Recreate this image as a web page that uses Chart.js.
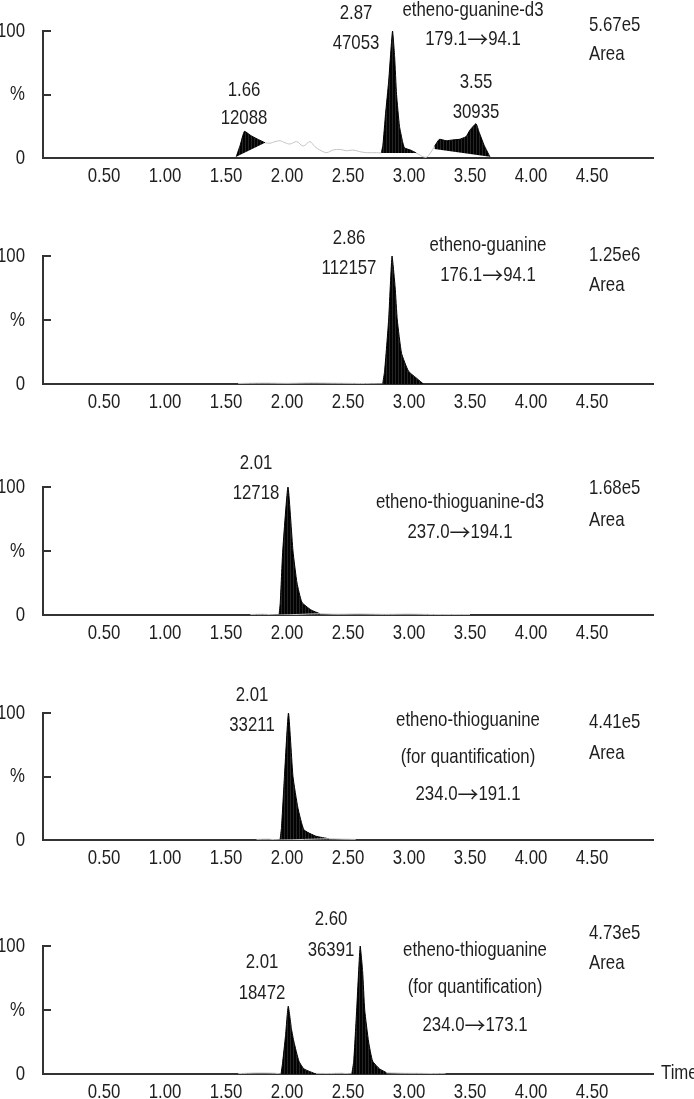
<!DOCTYPE html>
<html><head><meta charset="utf-8">
<script src="https://cdn.jsdelivr.net/npm/chart.js@4/dist/chart.umd.min.js"></script>
<style>
html,body{margin:0;padding:0;background:#fff;}
body{width:694px;height:1099px;position:relative;overflow:hidden;}
.p{position:absolute;left:0;width:694px;}
canvas{display:block;}
</style></head><body>
<div class="p" id="w1"><canvas id="c1"></canvas></div>
<div class="p" id="w2"><canvas id="c2"></canvas></div>
<div class="p" id="w3"><canvas id="c3"></canvas></div>
<div class="p" id="w4"><canvas id="c4"></canvas></div>
<div class="p" id="w5"><canvas id="c5"></canvas></div>
<script>
// ---------- DATA ----------
const xTicks = [0.5, 1.0, 1.5, 2.0, 2.5, 3.0, 3.5, 4.0, 4.5];
const yTickLabels = {0: '0', 50: '%', 100: '100'};

// Panel 1: etheno-guanine-d3
const p1PeakAT = [1.584, 1.616, 1.651, 1.698, 1.755, 1.820];
const p1PeakAV = [1, 10, 21, 18, 15, 12];
const p1BaseAT = [1.584, 1.820];
const p1BaseAV = [1, 12];
const p1PeakBT = [2.773, 2.786, 2.808, 2.833, 2.865, 2.882, 2.898, 2.922, 2.947, 2.963, 3.018, 3.059];
const p1PeakBV = [4, 10, 35, 60, 100, 80, 50, 25, 13, 8, 6, 4];
const p1BaseBT = [2.773, 3.059];
const p1BaseBV = [4, 4];
const p1PeakCT = [3.208, 3.249, 3.304, 3.358, 3.412, 3.467, 3.500, 3.549, 3.576, 3.616, 3.663];
const p1PeakCV = [9, 14.7, 13.6, 14.2, 14.7, 16.8, 22, 27, 20, 10, 1];
const p1BaseCT = [3.208, 3.663];
const p1BaseCV = [7, 1];
const p1NoiseAT = [1.820, 1.861, 1.902, 1.943, 1.984, 2.024, 2.079, 2.133, 2.188, 2.229, 2.269, 2.324, 2.378, 2.433, 2.487, 2.541, 2.596, 2.651, 2.732, 2.773];
const p1NoiseAV = [12, 11.6, 12.9, 13.6, 12, 11, 12.9, 9.4, 12.9, 8.9, 6.3, 4.2, 6.3, 6.8, 5.7, 6.3, 5, 4.2, 4.2, 4];
const p1NoiseBT = [3.059, 3.094, 3.140, 3.176, 3.208];
const p1NoiseBV = [4, 2, 0.5, 4, 9];
const p1Labels = ['2.87', '47053', 'etheno-guanine-d3', '179.1→94.1', '5.67e5', 'Area', '1.66', '12088', '3.55', '30935'];

// Panel 2: etheno-guanine
const p2PeakT = [2.784, 2.800, 2.833, 2.861, 2.886, 2.904, 2.939, 2.996, 3.069, 3.118];
const p2PeakV = [0, 10, 50, 100, 76, 50, 24, 10, 4, 0];
const p2NoiseT = [1.60, 1.80, 2.00, 2.20, 2.40, 2.60, 2.784];
const p2NoiseV = [0.4, 0.7, 0.5, 0.8, 0.6, 0.4, 0];
const p2Labels = ['2.86', '112157', 'etheno-guanine', '176.1→94.1', '1.25e6', 'Area'];

// Panel 3: etheno-thioguanine-d3
const p3PeakT = [1.935, 1.945, 1.965, 2.008, 2.049, 2.082, 2.122, 2.196, 2.270];
const p3PeakV = [0, 10, 50, 100, 50, 25, 10, 4, 1];
const p3NoiseT = [1.70, 1.80, 1.935, 2.270, 2.40, 2.60, 2.80, 3.00, 3.20, 3.50];
const p3NoiseV = [0.4, 0.6, 0, 1, 0.6, 0.8, 0.5, 0.7, 0.4, 0.4];
const p3Labels = ['2.01', '12718', 'etheno-thioguanine-d3', '237.0→194.1', '1.68e5', 'Area'];

// Panel 4: etheno-thioguanine 234.0→191.1
const p4PeakT = [1.943, 1.955, 1.979, 2.012, 2.049, 2.090, 2.139, 2.237, 2.343];
const p4PeakV = [0, 10, 50, 100, 50, 25, 8, 3, 1];
const p4NoiseT = [1.75, 1.85, 1.943, 2.343, 2.45, 2.563];
const p4NoiseV = [0.5, 0.7, 0, 1, 0.7, 0.5];
const p4Labels = ['2.01', '33211', 'etheno-thioguanine', '(for quantification)', '234.0→191.1', '4.41e5', 'Area'];

// Panel 5: etheno-thioguanine 234.0→173.1
const p5PeakAT = [1.951, 1.963, 1.988, 2.010, 2.037, 2.057, 2.098, 2.139, 2.237];
const p5PeakAV = [0, 8, 30, 53, 35, 25, 10, 4, 0];
const p5PeakBT = [2.531, 2.547, 2.571, 2.600, 2.620, 2.637, 2.669, 2.702, 2.759, 2.816];
const p5PeakBV = [0, 10, 50, 100, 80, 50, 25, 10, 4, 1];
const p5NoiseAT = [1.60, 1.75, 1.90, 1.951];
const p5NoiseAV = [0.3, 0.8, 0.6, 0];
const p5NoiseBT = [2.237, 2.35, 2.45, 2.531];
const p5NoiseBV = [0.5, 0.4, 0.6, 0];
const p5NoiseCT = [2.816, 2.95, 3.10, 3.30];
const p5NoiseCV = [1, 0.6, 0.5, 0.2];
const p5Labels = ['2.60', '36391', '2.01', '18472', 'etheno-thioguanine', '(for quantification)', '234.0→173.1', '4.73e5', 'Area', 'Time'];

// ---------- LAYOUT (page pixels) ----------
const p1Pos = [[356,13,'center'],[356,43,'center'],[473,10,'center'],[473,39,'center'],[589,25,'left'],[589,54,'left'],[244,90,'center'],[244,118,'center'],[476,82,'center'],[476,112,'center']];
const p2Pos = [[349,238,'center'],[349,268,'center'],[488,245,'center'],[488,275,'center'],[589,255,'left'],[589,285,'left']];
const p3Pos = [[256,463,'center'],[256,493,'center'],[460,502,'center'],[460,532,'center'],[589,488,'left'],[589,520,'left']];
const p4Pos = [[252,695,'center'],[252,725,'center'],[468,720,'center'],[468,757,'center'],[468,794,'center'],[589,722,'left'],[589,753,'left']];
const p5Pos = [[331,919,'center'],[331,950,'center'],[262,962,'center'],[262,993,'center'],[475,950,'center'],[475,987,'center'],[475,1025,'center'],[589,933,'left'],[589,963,'left'],[661,1073,'left']];

const FONT = '"Liberation Sans", Arial, sans-serif';
const ARROW_FONT = '"Noto Sans CJK SC", "DejaVu Sans", sans-serif';
const FSIZE = 21;
const SQUEEZE = 0.8;
const TEXT = '#1e1e1e';
const AXIS = '#333';
const PAD_TOP = 45, X_H = 35, LEFT = 43, RIGHT_PAD = 694 - 653;

function pts(t, v) { return t.map((x, i) => ({x: x, y: v[i]})); }

function stripe(ctx) {
  const c = document.createElement('canvas'); c.width = 3; c.height = 1;
  const g = c.getContext('2d');
  g.fillStyle = '#030303'; g.fillRect(0, 0, 3, 1);
  g.fillStyle = '#262626'; g.fillRect(2, 0, 1, 1);
  return ctx.createPattern(c, 'repeat');
}

// condensed text: draw every text horizontally squeezed around its anchor
function condense(ctx) {
  const orig = ctx.fillText.bind(ctx);
  ctx._plainFillText = orig;
  ctx.fillText = function (t, x, y) {
    ctx.save(); ctx.translate(x, y); ctx.scale(SQUEEZE, 1); orig(t, 0, 0); ctx.restore();
  };
}

// text with a wide arrow glyph
function drawLabel(ctx, s, x, y, align) {
  const i = s.indexOf('→');
  if (i < 0) { ctx.textAlign = align; ctx.fillText(s, x, y); return; }
  const a = s.slice(0, i), b = s.slice(i + 1);
  ctx.font = FSIZE + 'px ' + FONT;
  const wa = ctx.measureText(a).width * SQUEEZE, wb = ctx.measureText(b).width * SQUEEZE;
  ctx.font = FSIZE + 'px ' + ARROW_FONT;
  const wr = ctx.measureText('→').width;
  const total = wa + wr + wb;
  let x0 = align === 'center' ? x - total / 2 : x;
  ctx.textAlign = 'left';
  ctx.font = FSIZE + 'px ' + FONT;
  ctx.fillText(a, x0, y);
  ctx.font = FSIZE + 'px ' + ARROW_FONT;
  ctx._plainFillText('→', x0 + wa, y);
  ctx.font = FSIZE + 'px ' + FONT;
  ctx.fillText(b, x0 + wa + wr, y);
}

function build(id, T, B, peaks, noise, labels, pos) {
  const cv = document.getElementById('c' + id);
  const wrap = document.getElementById('w' + id);
  const H = (B - T) + PAD_TOP + X_H;
  const top = T - PAD_TOP;
  wrap.style.top = top + 'px';
  cv.width = 694; cv.height = H; cv.style.width = '694px'; cv.style.height = H + 'px';
  const c2d = cv.getContext('2d');
  condense(c2d);
  const pat = stripe(c2d);
  const ds = [];
  noise.forEach(n => ds.push({data: pts(n[0], n[1]), borderColor: '#c4c4c4', borderWidth: 1, pointRadius: 0, fill: false, tension: 0.3}));
  peaks.forEach(p => {
    let fill = {value: 0};
    if (p.bt) {
      ds.push({data: pts(p.bt, p.bv), borderWidth: 0, borderColor: 'rgba(0,0,0,0)', pointRadius: 0, fill: false});
      fill = {target: ds.length - 1};
    }
    ds.push({data: pts(p.t, p.v), borderColor: '#000', borderWidth: 1, pointRadius: 0, fill: fill, backgroundColor: pat, tension: 0.15});
  });
  const deco = {
    id: 'deco',
    afterDraw(chart) {
      const ctx = chart.ctx, ys = chart.scales.y, xs = chart.scales.x;
      ctx.save();
      ctx.strokeStyle = AXIS; ctx.lineWidth = 2;
      [100, 50].forEach(v => {
        const y = Math.round(ys.getPixelForValue(v));
        ctx.beginPath(); ctx.moveTo(xs.left, y); ctx.lineTo(xs.left + 8, y); ctx.stroke();
      });
      ctx.fillStyle = TEXT; ctx.font = FSIZE + 'px ' + FONT; ctx.textBaseline = 'middle';
      labels.forEach((s, i) => {
        ctx.font = FSIZE + 'px ' + FONT;
        drawLabel(ctx, s, pos[i][0], pos[i][1] - top, pos[i][2]);
      });
      ctx.restore();
    }
  };
  new Chart(cv, {
    type: 'line',
    data: {datasets: ds},
    options: {
      responsive: false, animation: false, devicePixelRatio: 1,
      layout: {padding: {top: PAD_TOP, left: 0, right: RIGHT_PAD, bottom: 0}},
      plugins: {legend: {display: false}, tooltip: {enabled: false}},
      scales: {
        x: {
          type: 'linear', min: 0, max: 5,
          afterBuildTicks: s => { s.ticks = xTicks.map(v => ({value: v})); },
          afterFit: s => { s.height = X_H; },
          grid: {display: true, drawOnChartArea: false, drawTicks: false},
          border: {display: true, color: AXIS, width: 2},
          ticks: {autoSkip: false, maxRotation: 0, padding: 6, color: TEXT, font: {family: FONT, size: FSIZE}, callback: v => Number(v).toFixed(2)}
        },
        y: {
          min: 0, max: 100,
          afterBuildTicks: s => { s.ticks = [0, 50, 100].map(v => ({value: v})); },
          afterFit: s => { s.width = LEFT; },
          grid: {display: true, drawOnChartArea: false, drawTicks: false},
          border: {display: true, color: AXIS, width: 2},
          ticks: {padding: 18, color: TEXT, font: {family: FONT, size: FSIZE}, callback: v => yTickLabels[v] !== undefined ? yTickLabels[v] : ''}
        }
      }
    },
    plugins: [deco]
  });
}

build(1, 31, 158,
  [{t: p1PeakAT, v: p1PeakAV, bt: p1BaseAT, bv: p1BaseAV},
   {t: p1PeakBT, v: p1PeakBV, bt: p1BaseBT, bv: p1BaseBV},
   {t: p1PeakCT, v: p1PeakCV, bt: p1BaseCT, bv: p1BaseCV}],
  [[p1NoiseAT, p1NoiseAV], [p1NoiseBT, p1NoiseBV]], p1Labels, p1Pos);
build(2, 256, 384, [{t: p2PeakT, v: p2PeakV}], [[p2NoiseT, p2NoiseV]], p2Labels, p2Pos);
build(3, 487, 615, [{t: p3PeakT, v: p3PeakV}], [[p3NoiseT, p3NoiseV]], p3Labels, p3Pos);
build(4, 713, 840, [{t: p4PeakT, v: p4PeakV}], [[p4NoiseT, p4NoiseV]], p4Labels, p4Pos);
build(5, 946, 1074, [{t: p5PeakAT, v: p5PeakAV}, {t: p5PeakBT, v: p5PeakBV}],
  [[p5NoiseAT, p5NoiseAV], [p5NoiseBT, p5NoiseBV], [p5NoiseCT, p5NoiseCV]], p5Labels, p5Pos);
</script>
</body></html>
